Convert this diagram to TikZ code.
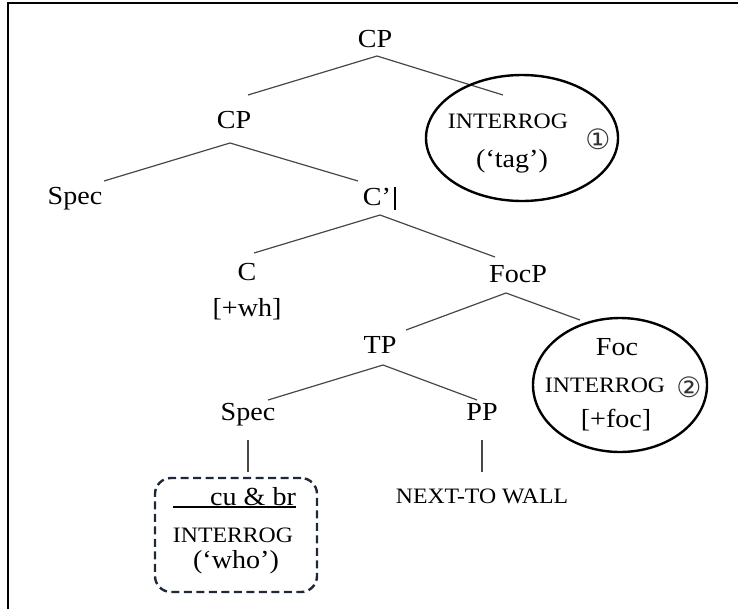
\documentclass[tikz,border=0pt]{standalone}
\usepackage{fontspec}
\setmainfont[FakeStretch=1.08]{Liberation Serif}
\newfontfamily\symfont{DejaVu Sans}
\usetikzlibrary{shapes.geometric}
\begin{document}
\begin{tikzpicture}[x=1pt,y=-1pt,
  every node/.style={inner sep=0pt, outer sep=0pt},
  lab/.style={font=\fontsize{26}{28}\selectfont, anchor=base},
  sm/.style={font=\fontsize{22}{24}\selectfont, anchor=base},
  num/.style={font=\symfont\fontsize{28}{30}\selectfont, text=black!80},
  branch/.style={draw=black!72, line width=1.2pt},
  oval/.style={draw=black, line width=2.4pt, ellipse},
  dbox/.style={draw={rgb,255:red,30;green,40;blue,55}, dash pattern=on 8pt off 4.5pt, rounded corners=16pt, line width=2.4pt}]
\useasboundingbox (0,0) rectangle (738,608);
% frame
\draw[line width=2.4pt] (8,610) -- (8,3) -- (740,3);

% row 1
\node[lab] (cp1) at (375,47) {CP};
\coordinate (cp1b) at (377,56);
\coordinate (cp1l) at (248,95);
\coordinate (cp1r) at (503,95);
\draw[branch] (cp1l) -- (cp1b) -- (cp1r);

% ellipse 1
\node[oval, minimum width=192pt, minimum height=126pt] (e1) at (522,138) {};
\node[sm] (int1) at (508,128) {INTERROG};
\node[lab] (tag) at (512,167) {(‘tag’)};
\node[num] (n1) at (598,139) {①};

% row 2
\node[lab] (cp2) at (234,128) {CP};
\coordinate (cp2b) at (230,143);
\coordinate (cp2l) at (104,181);
\coordinate (cp2r) at (358,181);
\draw[branch] (cp2l) -- (cp2b) -- (cp2r);

\node[lab] (spec1) at (75,204) {Spec};
\node[lab] (cbar) at (377,205) {C’};
\coordinate (bart) at (395,187);
\coordinate (barb) at (395,210);
\draw[black, line width=1.1pt] (bart) -- (barb);

\coordinate (cbarb) at (380,215);
\coordinate (cbarl) at (254,253);
\coordinate (cbarr) at (495,257);
\draw[branch] (cbarl) -- (cbarb) -- (cbarr);

% row 3
\node[lab] (c) at (247,280) {C};
\node[lab] (wh) at (247,316) {[+wh]};
\node[lab] (focp) at (518,282) {FocP};
\coordinate (focpb) at (506,293);
\coordinate (focpl) at (406,330);
\coordinate (focpr) at (580,320);
\draw[branch] (focpl) -- (focpb) -- (focpr);

% ellipse 2
\node[oval, minimum width=174pt, minimum height=134pt] (e2) at (620,385) {};
\node[lab] (foc) at (617,355) {Foc};
\node[sm] (int2) at (605,392) {INTERROG};
\node[lab] (pfoc) at (616,427) {[+foc]};
\node[num] (n2) at (689,387) {②};

% TP
\node[lab] (tp) at (380,353) {TP};
\coordinate (tpb) at (383,365);
\coordinate (tpl) at (268,400);
\coordinate (tpr) at (477,400);
\draw[branch] (tpl) -- (tpb) -- (tpr);

\node[lab] (spec2) at (248,420) {Spec};
\node[lab] (pp) at (482,420) {PP};
\coordinate (s2t) at (248,440);
\coordinate (s2b) at (248,472);
\coordinate (ppt) at (482,440);
\coordinate (ppb) at (482,472);
\draw[branch] (s2t) -- (s2b);
\draw[branch] (ppt) -- (ppb);

\node[sm] (wall) at (482,503) {NEXT-TO WALL};

% dashed box
\node[dbox, minimum width=162pt, minimum height=114pt] (box) at (236,535) {};
\node[lab, anchor=base east] (cubr) at (296,505) {cu \& br};
\coordinate (ul) at (173,507);
\coordinate (ur) at (296,507);
\draw[black, line width=1.2pt] (ul) -- (ur);
\node[sm] (int3) at (233,542) {INTERROG};
\node[lab] (who) at (236,568) {(‘who’)};
\end{tikzpicture}
\end{document}
